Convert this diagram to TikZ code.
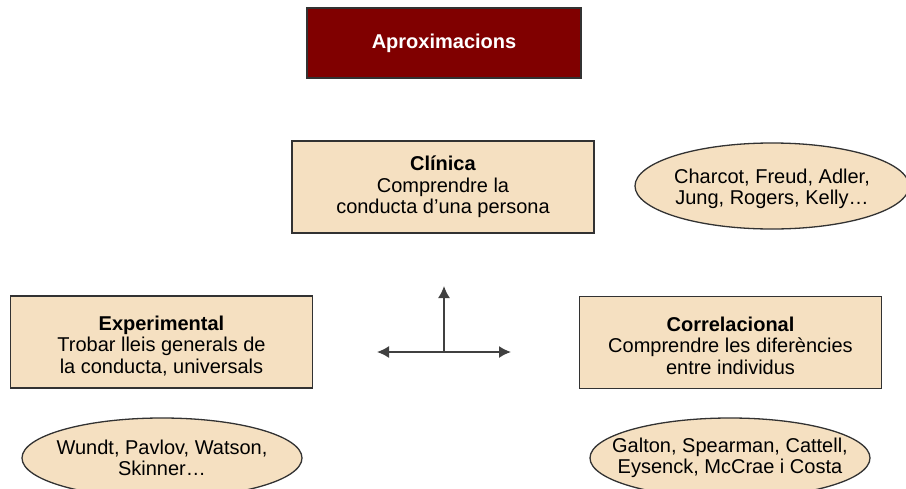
\documentclass[tikz,border=0pt]{standalone}
\usepackage{fontspec}
\setmainfont{Liberation Sans}
\usetikzlibrary{arrows.meta}
\definecolor{tanfill}{RGB}{245,224,193}
\definecolor{titlered}{RGB}{128,0,0}
\definecolor{edgegray}{RGB}{50,50,50}
\begin{document}
\begin{tikzpicture}[
x=1pt,y=-1pt,
approach/.style={
  draw=edgegray,
  line width=1.3pt,
  fill=tanfill,
  minimum width=302pt,
  minimum height=92pt,
  align=center,
  font=\fontsize{20}{21.5}\selectfont
  },
title/.style={
  approach,
  fill=titlered,
  text=white,
  minimum width=274pt,
  minimum height=70pt,
  font=\fontsize{20}{21.5}\selectfont\bfseries
  },
oval/.style={
  draw=edgegray,
  line width=1.3pt,
  fill=tanfill
  },
authors/.style={
  inner sep=0pt,
  align=center,
  font=\fontsize{20}{21.5}\selectfont
  },
axis/.style={
  draw=black!75,
  line width=1.6pt
  },
>={Latex[length=12pt,width=12pt]}
]
\useasboundingbox (0,0) rectangle (906,488);
\clip (0,0) rectangle (906,488);
\node[title] (apr) at (444,43) {Aproximacions};
\node[approach] (clin) at (443,187) {\textbf{Clínica}\\Comprendre la\\conducta d’una persona};
\node[approach,text height=65pt] (exp) at (161.5,342) {\textbf{Experimental}\\Trobar lleis generals de\\la conducta, universals};
\node[approach,text height=64pt] (corr) at (730.5,342.5) {\textbf{Correlacional}\\Comprendre les diferències\\entre individus};
% autors
\coordinate (clin-c) at (772,186);
\coordinate (exp-c) at (162,458);
\coordinate (corr-c) at (730,458);
\draw[oval] (clin-c) ellipse [x radius=137, y radius=43];
\draw[oval] (exp-c) ellipse [x radius=140, y radius=40];
\draw[oval] (corr-c) ellipse [x radius=140, y radius=40];
\node[authors] (clin-a) at ([yshift=-3]clin-c) {Charcot, Freud, Adler,\\Jung, Rogers, Kelly…};
\node[authors] (exp-a) at (exp-c) {Wundt, Pavlov, Watson,\\Skinner…};
\node[authors] (corr-a) at (corr-c) {Galton, Spearman, Cattell,\\Eysenck, McCrae i Costa};
% eixos
\coordinate (orig) at (444,352);
\coordinate (up) at (444,286);
\coordinate (left) at (377,352);
\coordinate (right) at (511,352);
\draw[axis,->] (orig) -- (up);
\draw[axis,<->] (left) -- (right);
\end{tikzpicture}
\end{document}
